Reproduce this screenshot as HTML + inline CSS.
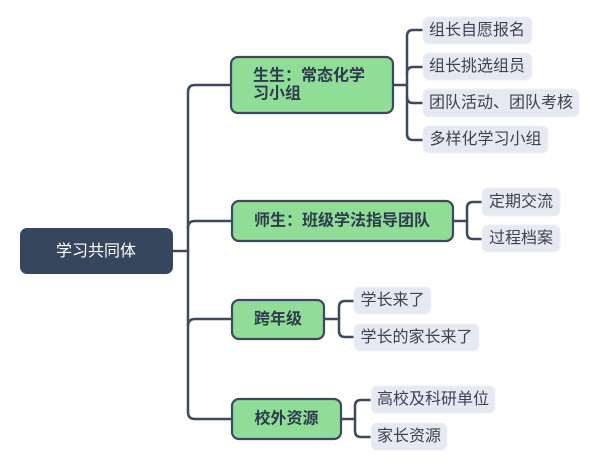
<!DOCTYPE html>
<html><head><meta charset="utf-8"><style>
html,body{margin:0;padding:0;background:#fff;width:600px;height:467px;overflow:hidden}
svg{display:block}
text{font-family:"Liberation Sans","Noto Sans CJK SC",sans-serif}
.g{fill:#8fdd97;stroke:#3b4a60;stroke-width:2.2}
.l{fill:#e5eaf2;stroke:#edf1f7;stroke-width:1}
.gt{font-size:16px;font-weight:bold;fill:#2e3b4d}
.lt{font-size:16px;fill:#3d4250}
.c{fill:none;stroke:#3b4a60;stroke-width:2.5;stroke-linecap:round;stroke-linejoin:round}
</style></head><body>
<svg width="600" height="467" viewBox="0 0 600 467" xmlns="http://www.w3.org/2000/svg">
<!-- connectors -->
<path class="c" d="M173 251 H188"/>
<path class="c" d="M231 85 H195 Q188 85 188 92 V412 Q188 419 195 419 H232"/>
<path class="c" d="M188 228 Q188 221 195 221 H232"/>
<path class="c" d="M188 326 Q188 319 195 319 H232"/>

<path class="c" d="M393 85 H407"/>
<path class="c" d="M423 30 H413 Q407 30 407 36 V134 Q407 140 413 140 H423"/>
<path class="c" d="M407 73 Q407 67 413 67 H423"/>
<path class="c" d="M407 97 Q407 103 413 103 H423"/>

<path class="c" d="M453 221 H467"/>
<path class="c" d="M482 202 H473 Q467 202 467 208 V233 Q467 239 473 239 H482"/>

<path class="c" d="M324 319 H339"/>
<path class="c" d="M354 301 H345 Q339 301 339 307 V331 Q339 337 345 337 H354"/>

<path class="c" d="M341 419 H355"/>
<path class="c" d="M371 400 H361 Q355 400 355 406 V431 Q355 437 361 437 H371"/>

<!-- root -->
<rect x="20" y="228" width="153" height="46" rx="7" fill="#36465d"/>
<text x="96" y="251.5" text-anchor="middle" dominant-baseline="central" font-size="16" fill="#ffffff">学习共同体</text>

<!-- green nodes -->
<rect class="g" x="231" y="57" width="162" height="56" rx="7"/>
<text class="gt" x="253" y="76" dominant-baseline="central">生生：常态化学</text>
<text class="gt" x="253" y="94" dominant-baseline="central">习小组</text>

<rect class="g" x="232" y="201" width="221" height="40" rx="7"/>
<text class="gt" x="254" y="221" dominant-baseline="central">师生：班级学法指导团队</text>

<rect class="g" x="232" y="300" width="92" height="39" rx="7"/>
<text class="gt" x="278" y="319.5" text-anchor="middle" dominant-baseline="central">跨年级</text>

<rect class="g" x="232" y="399" width="109" height="40" rx="7"/>
<text class="gt" x="286.5" y="419" text-anchor="middle" dominant-baseline="central">校外资源</text>

<!-- leaves -->
<rect class="l" x="423" y="17" width="109" height="27" rx="6"/>
<text class="lt" x="477" y="30.5" text-anchor="middle" dominant-baseline="central">组长自愿报名</text>
<rect class="l" x="423" y="53" width="109" height="27" rx="6"/>
<text class="lt" x="477" y="66.5" text-anchor="middle" dominant-baseline="central">组长挑选组员</text>
<rect class="l" x="423" y="89" width="156" height="28" rx="6"/>
<text class="lt" x="501" y="103" text-anchor="middle" dominant-baseline="central">团队活动、团队考核</text>
<rect class="l" x="423" y="126" width="125" height="27" rx="6"/>
<text class="lt" x="485.5" y="139.5" text-anchor="middle" dominant-baseline="central">多样化学习小组</text>

<rect class="l" x="482" y="188" width="78" height="28" rx="6"/>
<text class="lt" x="521" y="202" text-anchor="middle" dominant-baseline="central">定期交流</text>
<rect class="l" x="482" y="225" width="78" height="27" rx="6"/>
<text class="lt" x="521" y="238.5" text-anchor="middle" dominant-baseline="central">过程档案</text>

<rect class="l" x="354" y="287" width="77" height="27" rx="6"/>
<text class="lt" x="392.5" y="300.5" text-anchor="middle" dominant-baseline="central">学长来了</text>
<rect class="l" x="354" y="324" width="125" height="27" rx="6"/>
<text class="lt" x="416.5" y="337.5" text-anchor="middle" dominant-baseline="central">学长的家长来了</text>

<rect class="l" x="371" y="386" width="124" height="27" rx="6"/>
<text class="lt" x="433" y="399.5" text-anchor="middle" dominant-baseline="central">高校及科研单位</text>
<rect class="l" x="371" y="423" width="76" height="27" rx="6"/>
<text class="lt" x="409" y="436.5" text-anchor="middle" dominant-baseline="central">家长资源</text>
</svg>
</body></html>
